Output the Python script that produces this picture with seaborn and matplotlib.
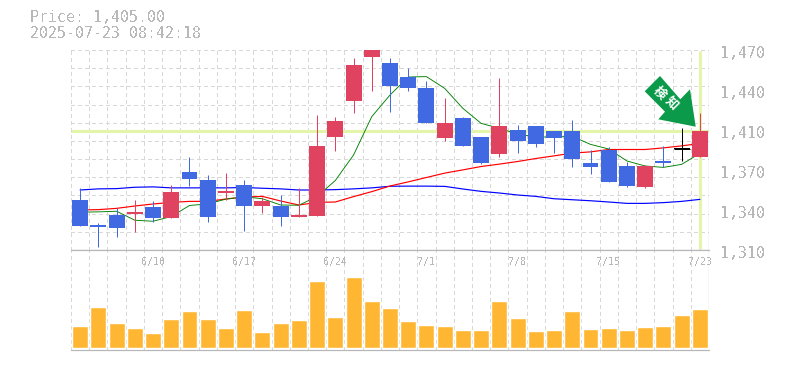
import numpy as np
import pandas as pd
import seaborn as sns
import matplotlib.pyplot as plt
from matplotlib.patches import Polygon
from matplotlib.ticker import MultipleLocator
from matplotlib.transforms import Affine2D

# daily candles, in yen
opens = [1350, 1330, 1338, 1338.8, 1344.4, 1335.6, 1372.4, 1366, 1355.6, 1362, 1345.2, 1345.2,
         1336.4, 1337.2, 1400.4, 1429.2, 1464.4, 1459.6, 1448.4, 1439.6, 1399.6, 1415.6, 1400.4,
         1386.8, 1406, 1409.2, 1405.2, 1405.2, 1379.6, 1390, 1377.2, 1360.4, 1381.2, 1392, 1384.7]
closes = [1329.2, 1328.4, 1327.6, 1340.4, 1335.6, 1356.4, 1366.8, 1336.4, 1357.2, 1345.2, 1349.2, 1336.4,
          1338, 1393.2, 1413.2, 1458, 1476, 1441.2, 1439.6, 1411.6, 1411.6, 1393.2, 1379.6,
          1409.2, 1397.2, 1394.8, 1399.6, 1382.8, 1376.4, 1364.4, 1361.2, 1377.2, 1379.6, 1391.2, 1405.2]
highs = [1359.3, 1331.3, 1343.3, 1350, 1349.2, 1362, 1384.4, 1370, 1371.6, 1366, 1352.7, 1354,
         1359.3, 1418, 1416.4, 1463.6, 1476, 1463.6, 1455.6, 1445.2, 1431.6, 1416.4, 1400.4,
         1447.6, 1410, 1409.2, 1405.2, 1414, 1390, 1392.4, 1380.4, 1378, 1393.2, 1407.9, 1419.6]
lows = [1329.2, 1312.4, 1320.4, 1324.4, 1332.4, 1335.6, 1361.2, 1332.4, 1350, 1325.2, 1339.6, 1329.2,
        1336.4, 1337.2, 1389.2, 1419.6, 1437.2, 1420.4, 1437.2, 1411.6, 1397.2, 1393.2, 1378.8,
        1384.4, 1387.6, 1392.4, 1387.6, 1376.4, 1370.8, 1364.4, 1360.4, 1359.6, 1376.4, 1381.2, 1384.7]

# moving averages
ma_short = [1340.3, 1340.5, 1341, 1333.8, 1333, 1336.8, 1345.6, 1346.9, 1350.7, 1352.6, 1351, 1346,
            1345.8, 1352.8, 1365.6, 1386, 1416.7, 1434, 1448.4, 1448.7, 1439.3, 1423.3, 1411.3,
            1407.3, 1402.8, 1400.4, 1400.4, 1400.9, 1394.5, 1390.8, 1381.2, 1377.2, 1376.1, 1378.5, 1387.3]
ma_mid = [1342, 1342.3, 1343.3, 1345.2, 1346.8, 1348.1, 1348.9, 1348.9, 1350.8, 1352.4, 1352.9, 1349.2,
          1346, 1348.1, 1348.4, 1352.7, 1356.7, 1361.2, 1364.5, 1368, 1371.5, 1374.1, 1376.8,
          1378.7, 1380.8, 1383.2, 1385.3, 1387.5, 1388.5, 1390.4, 1390.4, 1390.4, 1391.7, 1393.3, 1395.2]
ma_long = [1358, 1358.9, 1359.1, 1360.2, 1360.5, 1359.7, 1359.7, 1359.7, 1359.7, 1360, 1359.4, 1358.9,
           1358, 1358, 1358.3, 1358.9, 1359.7, 1361, 1361.1, 1361.1, 1360.9, 1358.8, 1356.9,
           1355.6, 1354, 1352.9, 1351, 1350.2, 1349.4, 1348.4, 1347.3, 1347.3, 1347.9, 1348.9, 1350.5]

volumes = [22.3, 41.3, 25.3, 20.3, 15.3, 29.3, 37.3, 29.3, 20.3, 38.3, 16.3, 25.3, 28.3, 67.3, 31.3, 71.3, 47.3,
           40.3, 27.3, 23.3, 22.3, 18.3, 18.3, 47.3, 30.3, 17.3, 18.3, 37.3, 19.3, 20.3, 18.3, 21.3, 22.3, 33.3, 39.3]

tick_idx = [4, 9, 14, 19, 24, 29, 34]
tick_labels = ['6/10', '6/17', '6/24', '7/1', '7/8', '7/15', '7/23']
# the labels sit evenly up the axis, their text is rounded
price_ticks = [1310, 1342, 1374, 1406, 1438, 1470]
price_labels = ['1,310', '1,340', '1,370', '1,410', '1,440', '1,470']
last_price = 1405
title_lines = ['Price: 1,405.00', '2025-07-23 08:42:18']
badge_chars = ['検', '知']

UP = '#e0435f'
DOWN = '#4169e1'
DOJI = '#000000'
GRAY = '#b8b8b8'
GRID = '#d8d8d8'
HILITE = '#e3f5a9'
MONO = 'DejaVu Sans Mono'
DASH = (0, (3, 3))

sns.set_theme(style="white")
fig = plt.figure(figsize=(7.85, 3.70), dpi=100, facecolor='white')
W, H = 785, 370
ax = fig.add_axes([71/W, 1-250/H, 638/W, 200/H])
vol = fig.add_axes([71/W, 1-350/H, 638/W, 100/H])

x = np.arange(len(opens))
df = pd.DataFrame({'x': x, 'short': ma_short, 'mid': ma_mid, 'long': ma_long, 'vol': volumes})

# price panel
ax.set_ylim(1310, 1470)
sns.lineplot(data=df, x='x', y='long', color='#0000ff', lw=0.85, ax=ax, zorder=2)
sns.lineplot(data=df, x='x', y='mid', color='#ff0000', lw=0.85, ax=ax, zorder=2)
sns.lineplot(data=df, x='x', y='short', color='#008000', lw=0.65, ax=ax, zorder=2)

colors = []
for o, c in zip(opens, closes):
    if abs(o - c) < 1:
        colors.append(DOJI)
    elif c > o:
        colors.append(UP)
    else:
        colors.append(DOWN)

ax.vlines(x, lows, highs, colors=colors, lw=0.72, zorder=3)
tops = np.maximum(opens, closes)
bottoms = np.minimum(opens, closes)
ax.bar(x, tops - bottoms, bottom=bottoms, width=0.875, color=colors, lw=0, zorder=4)
# a body under a pixel high would vanish, so it gets a line of its own
for i, c in enumerate(colors):
    if c == DOJI:
        ax.hlines(closes[i], i - 0.4375, i + 0.4375, color=c, lw=0.72, zorder=4)

ax.set_yticks(np.arange(1310, 1470.1, 160 / 11))
ax.set_yticklabels([])
ax.set_xticks([])
ax.grid(True, which='major', axis='y', color=GRID, ls=DASH, lw=0.72, antialiased=False)
ax.axhline(last_price, color=HILITE, lw=2.2, zorder=1.5)
ax.plot([34, 34], [1311, 1469], color=HILITE, lw=2.2, zorder=1.5, solid_capstyle='butt')

for p, lab in zip(price_ticks, price_labels):
    ax.annotate(lab, xy=(1, (p - 1310) / 160), xycoords='axes fraction', xytext=(11, -3), textcoords='offset pixels',
                ha='left', va='center', color=GRAY, family=MONO, fontsize=10.7, annotation_clip=False,
                antialiased=False)

# volume panel
sns.barplot(data=df, x='x', y='vol', color='#ffb733', width=0.875, saturation=1, ax=vol, zorder=3, native_scale=True)
vol.set_ylim(-2, 98)
vol.set_yticks([])
vol.set_xticks([])
for i, lab in zip(tick_idx, tick_labels):
    vol.text(i, 86, lab, ha='center', va='center', color=GRAY, family=MONO, fontsize=7.2, zorder=5, clip_on=False,
             antialiased=False)

for a in [ax, vol]:
    a.set_xlim(-0.5, len(opens) - 0.5)
    a.xaxis.set_minor_locator(MultipleLocator(1, offset=0.5))
    a.grid(True, which='minor', axis='x', color=GRID, ls=DASH, lw=0.72, antialiased=False)
    a.set_axisbelow(True)
    for s in ['top', 'left', 'right', 'bottom']:
        a.spines[s].set_visible(False)
    a.tick_params(which='both', length=0)
    a.set_xlabel('')
    a.set_ylabel('')
    a.axvline(-0.5, color=GRID, ls=DASH, lw=0.72, antialiased=False)
    a.axvline(len(opens) - 0.5, color=GRAY, lw=0.9)
    a.axhline(a.get_ylim()[0], color=GRAY, lw=0.9, clip_on=False)
# the volume panel lies over the price panel's bottom line, so it draws that line itself
vol.axhline(vol.get_ylim()[1], color=GRAY, lw=0.9, clip_on=False)

# header
for k, line in enumerate(title_lines):
    fig.text(30/W, 1-(18 + 15*k)/H, line, ha='left', va='center', color=GRAY, family=MONO, fontsize=10.7,
             antialiased=False)

# signal arrow pointing at the last candle
arrow = Polygon([(660, 76), (644.7, 91.3), (665, 111.7), (658.3, 119.3), (695.7, 126.7), (690, 89.3), (680.3, 99.3)],
                closed=True, facecolor='#0a9a4a', edgecolor='none', zorder=6,
                transform=Affine2D().scale(1, -1).translate(0, H), clip_on=False)
fig.add_artist(arrow)
for ch, (tx, ty) in zip(badge_chars, [(659.3, 92.7), (671.7, 103)]):
    fig.text(tx/W, 1-ty/H, ch, color='white', family=['Noto Sans CJK JP', 'DejaVu Sans'], fontsize=9,
             fontweight='bold', rotation=-45, ha='center', va='center', rotation_mode='anchor', zorder=7)

plt.savefig('out.png', dpi=100, facecolor='white')
plt.close()
